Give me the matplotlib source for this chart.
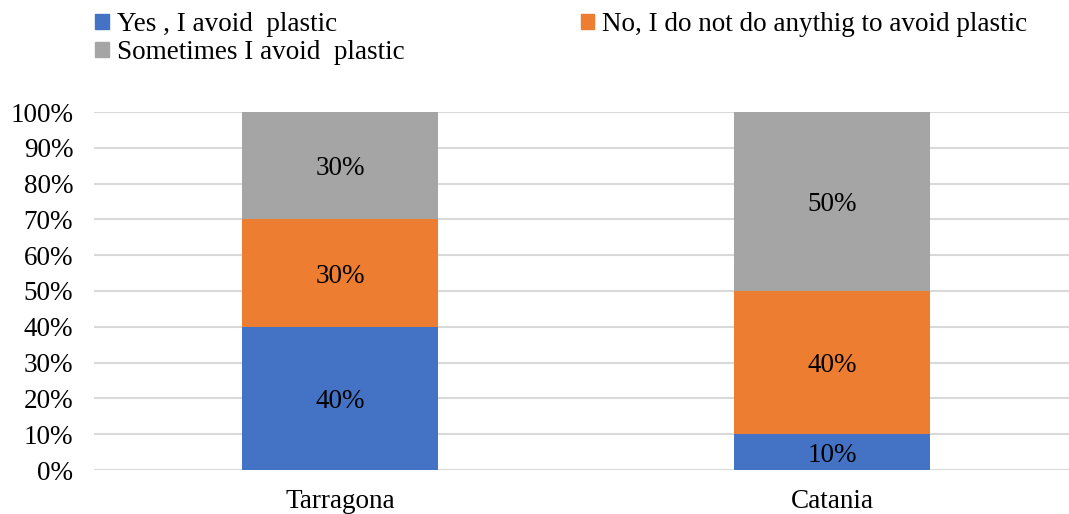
import numpy as np
import matplotlib.pyplot as plt
from matplotlib.patches import Patch

plt.rcParams['font.family'] = ['Liberation Serif', 'DejaVu Serif']

# 数据
cities = ['Tarragona', 'Catania']
series_names = ['Yes , I avoid  plastic',
                'No, I do not do anythig to avoid plastic',
                'Sometimes I avoid  plastic']
yes_vals = [40, 10]
no_vals = [30, 40]
sometimes_vals = [30, 50]
colors = ['#4472C4', '#ED7D31', '#A5A5A5']

FS = 19.5

fig = plt.figure(figsize=(10.69, 5.14), dpi=100)
ax = fig.add_axes([94 / 1069, 1 - 470 / 514, (1069 - 94) / 1069, (470 - 112) / 514])

x = np.arange(len(cities))
bottom = np.zeros(len(cities))
for vals, name, c in zip([yes_vals, no_vals, sometimes_vals], series_names, colors):
    vals = np.array(vals, dtype=float)
    ax.bar(x, vals, width=0.4, bottom=bottom, color=c, zorder=3)
    for xi, b, v in zip(x, bottom, vals):
        ax.text(xi, b + v / 2, f'{v:.0f}%', ha='center', va='center_baseline',
                fontsize=FS, color='black', zorder=4)
    bottom += vals

ax.set_xlim(-0.5, 1.482)
ax.set_ylim(0, 100)
ax.set_yticks(np.arange(0, 101, 10))
ax.set_yticklabels([f'{v}%' for v in range(0, 101, 10)], fontsize=FS)
ax.set_xticks(x)
ax.set_xticklabels(cities, fontsize=FS)
ax.tick_params(axis='both', length=0)
ax.tick_params(axis='y', pad=15)
ax.tick_params(axis='x', pad=14)
ax.yaxis.grid(True, color='#D9D9D9', linewidth=1.5, zorder=0)
for s in ax.spines.values():
    s.set_visible(False)

# 图例：第一行两项，第二行一项
handles = [Patch(color=c) for c in colors]
order = [0, 2, 1]
fig.legend([handles[i] for i in order], [series_names[i] for i in order],
           loc='upper left', bbox_to_anchor=(79 / 1069, 1.008), ncol=2,
           frameon=False, fontsize=FS, handlelength=0.5, handleheight=0.5,
           handletextpad=0.3, columnspacing=6.5, labelspacing=0.1,
           borderaxespad=0.2)

fig.savefig('out.png', dpi=100)
